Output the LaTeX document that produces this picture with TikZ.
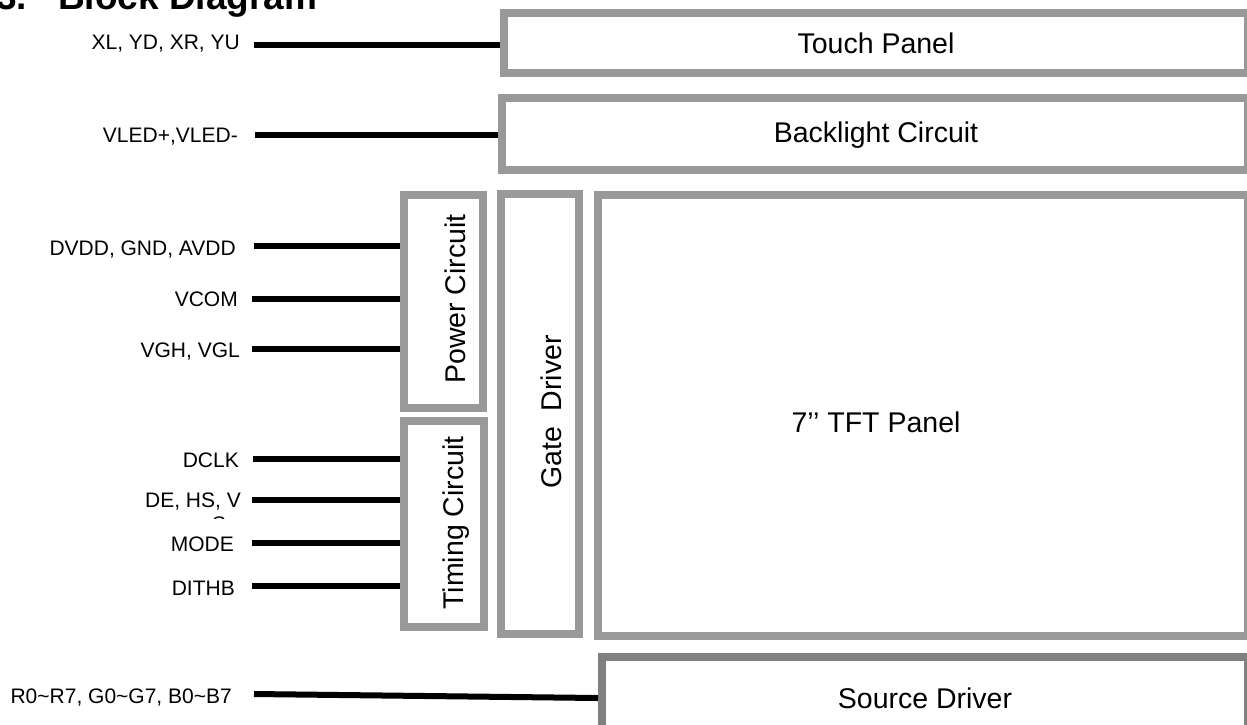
\documentclass[tikz,border=0pt]{standalone}
\usepackage{fontspec}
\setmainfont{Liberation Sans}
\definecolor{boxgray}{HTML}{999999}
\definecolor{darkgray2}{HTML}{808080}
\tikzset{
  blk/.style={draw=boxgray, line width=8pt, fill=white, inner sep=0pt, outer sep=4pt, rectangle},
  wire/.style={draw=black, line width=6pt},
  sig/.style={font=\fontsize{21}{24}\selectfont, inner sep=0pt, anchor=base east},
  blab/.style={font=\fontsize{28.5}{32}\selectfont, inner sep=0pt, anchor=base},
  vlab/.style={font=\fontsize{28.5}{32}\selectfont, inner sep=0pt, anchor=base, rotate=90},
}
\begin{document}
\begin{tikzpicture}[x=1pt,y=-1pt]
\clip (0,0) rectangle (1247,724);
\fill[white] (0,0) rectangle (1247,724);
% title
\node[anchor=base west, inner sep=0pt, font=\bfseries\fontsize{37}{40}\selectfont] (title) at (-4,9) {3.\hspace{31pt}Block Diagram};
% boxes (stroke centre lines)
\node[blk, minimum width=744pt, minimum height=60pt] (touch) at (876,43) {};
\node[blk, minimum width=746pt, minimum height=72pt] (back) at (875,134) {};
\node[blk, minimum width=79pt, minimum height=213pt] (power) at (443.5,301.5) {};
\node[blk, minimum width=80pt, minimum height=206pt] (timing) at (444,524) {};
\node[blk, minimum width=78pt, minimum height=440pt] (gate) at (540,414) {};
\node[blk, minimum width=650pt, minimum height=441pt] (tft) at (923,415.5) {};
\node[blk, draw=darkgray2, minimum width=646pt, minimum height=90pt] (source) at (925,702) {};
% box labels
\node[blab] (tTouch) at (876,53) {Touch Panel};
\node[blab] (tBack) at (876,142) {Backlight Circuit};
\node[blab] (tTFT) at (876,432) {7’’ TFT Panel};
\node[blab] (tSource) at (925,708) {Source Driver};
\node[vlab] (tPower) at (465,299) {Power Circuit};
\node[vlab] (tTiming) at (463,523) {Timing Circuit};
\node[vlab] (tGate) at (561,412) {Gate\ \ Driver};
% signal labels
\node[sig] (lXL) at (240,49) {XL, YD, XR, YU};
\node[sig] (lVLED) at (238,142) {VLED+,VLED-};
\node[sig] (lDVDD) at (236,255) {DVDD, GND, AVDD};
\node[sig] (lVCOM) at (238,306) {VCOM};
\node[sig] (lVGH) at (240,357) {VGH, VGL};
\node[sig] (lDCLK) at (239,467) {DCLK};
\node[sig] (lDE) at (241,507) {DE, HS, V};
\begin{scope}
\clip (150,480) rectangle (260,518);
\node[sig, anchor=base west] (lDEs) at (212,531) {S};
\end{scope}
\node[sig] (lMODE) at (234,551) {MODE};
\node[sig] (lDITHB) at (235,595) {DITHB};
\node[sig] (lRGB) at (232,703) {R0\textasciitilde R7, G0\textasciitilde G7, B0\textasciitilde B7};
% wire start points
\coordinate (sXL) at (254,45);
\coordinate (sVLED) at (255,135);
\coordinate (sDVDD) at (254,246);
\coordinate (sVCOM) at (252,299);
\coordinate (sVGH) at (252,349);
\coordinate (sDCLK) at (253,459);
\coordinate (sDE) at (252,500);
\coordinate (sMODE) at (252,543);
\coordinate (sDITHB) at (252,586);
\coordinate (sRGB) at (254,694);
\coordinate (eRGB) at (598,698);
% wires
\draw[wire] (sXL) -- (sXL -| touch.west);
\draw[wire] (sVLED) -- (sVLED -| back.west);
\draw[wire] (sDVDD) -- (sDVDD -| power.west);
\draw[wire] (sVCOM) -- (sVCOM -| power.west);
\draw[wire] (sVGH) -- (sVGH -| power.west);
\draw[wire] (sDCLK) -- (sDCLK -| timing.west);
\draw[wire] (sDE) -- (sDE -| timing.west);
\draw[wire] (sMODE) -- (sMODE -| timing.west);
\draw[wire] (sDITHB) -- (sDITHB -| timing.west);
\draw[wire] (sRGB) -- (eRGB -| source.west);
\end{tikzpicture}
\end{document}
